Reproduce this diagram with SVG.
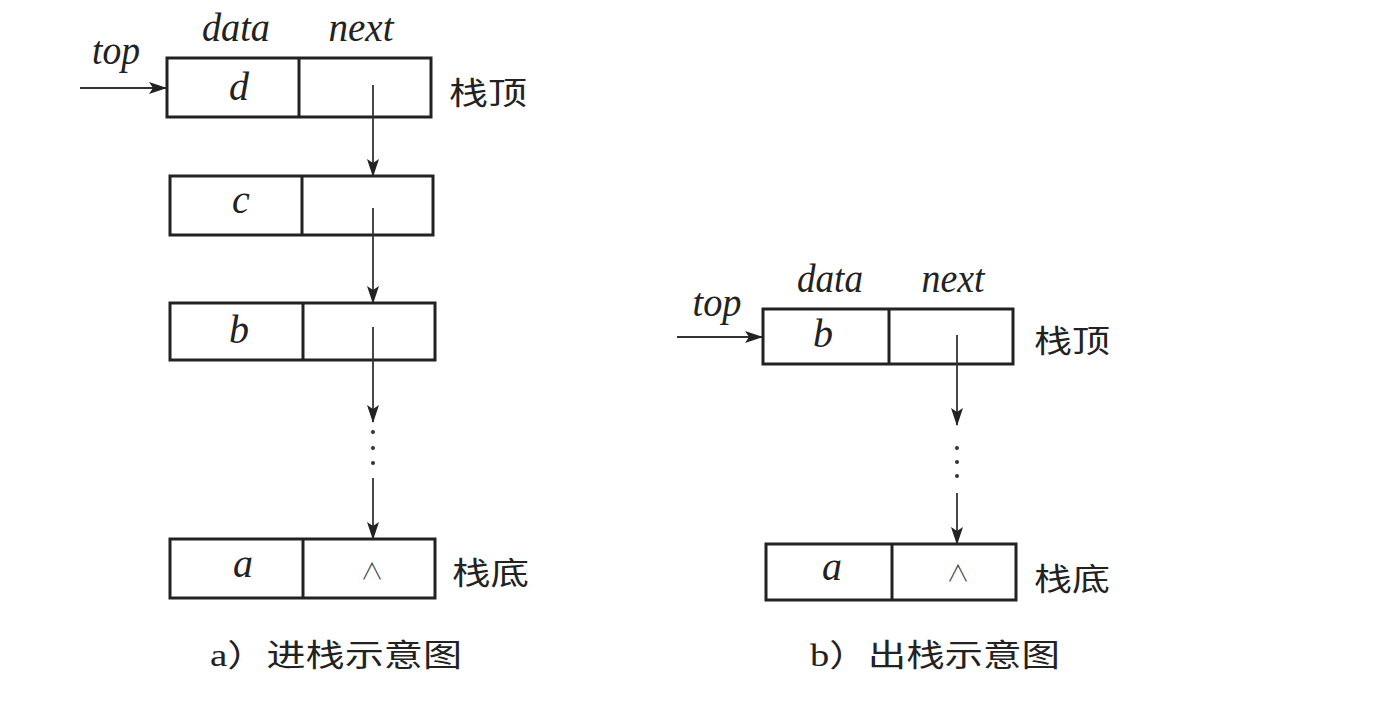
<svg xmlns="http://www.w3.org/2000/svg" width="1400" height="723" viewBox="0 0 1400 723">
<style>
.box{fill:#fff;stroke:#222;stroke-width:3}
.div{stroke:#222;stroke-width:3}
.ln{stroke:#333;stroke-width:1.8;fill:none}
.it{font-family:"Liberation Serif",serif;font-style:italic;font-size:40px;fill:#222}
.lt{font-family:"Liberation Serif",serif;font-style:italic;font-size:40px;fill:#222}
.nil{font-family:"Noto Sans CJK SC",sans-serif;font-weight:300;font-size:23px;fill:#444}
.cj{font-family:"Liberation Serif","Noto Sans CJK SC",serif;font-size:31px;fill:#222}
.dot{fill:#333}
</style>
<defs>
<marker id="ah" markerWidth="18" markerHeight="12" refX="17" refY="6" orient="auto" markerUnits="userSpaceOnUse">
<path d="M0,0 L18,6 L0,12 L4,6 Z" fill="#222"/>
</marker>
</defs>
<rect width="1400" height="723" fill="#fff"/>

<g id="labels-a">
<text class="it" x="236" y="41" text-anchor="middle" textLength="68" lengthAdjust="spacingAndGlyphs">data</text>
<text class="it" x="361" y="41" text-anchor="middle" textLength="65" lengthAdjust="spacingAndGlyphs">next</text>
<text class="it" x="116" y="64" text-anchor="middle" textLength="48" lengthAdjust="spacingAndGlyphs">top</text>
</g>
<g id="node-d">
<rect class="box" x="167" y="58" width="264" height="59"/>
<line class="div" x1="299" y1="58" x2="299" y2="117"/>
<text class="lt" x="239" y="100" text-anchor="middle">d</text>
<text class="cj" x="449" y="104" textLength="78" lengthAdjust="spacingAndGlyphs">栈顶</text>
</g>
<g id="node-c">
<rect class="box" x="170" y="176" width="263" height="59"/>
<line class="div" x1="302" y1="176" x2="302" y2="235"/>
<text class="lt" x="241" y="213" text-anchor="middle">c</text>
</g>
<g id="node-b">
<rect class="box" x="170" y="303" width="265" height="57"/>
<line class="div" x1="303" y1="303" x2="303" y2="360"/>
<text class="lt" x="239" y="343" text-anchor="middle">b</text>
</g>
<g id="node-a">
<rect class="box" x="170" y="539" width="265" height="59"/>
<line class="div" x1="303" y1="539" x2="303" y2="598"/>
<text class="lt" x="243" y="577" text-anchor="middle">a</text>
<text class="nil" x="372" y="579" text-anchor="middle">∧</text>
<text class="cj" x="452" y="584" textLength="77" lengthAdjust="spacingAndGlyphs">栈底</text>
</g>
<text class="cj" x="210" y="666" textLength="252" lengthAdjust="spacingAndGlyphs">a）进栈示意图</text>

<g id="labels-b">
<text class="it" x="830" y="292" text-anchor="middle" textLength="66" lengthAdjust="spacingAndGlyphs">data</text>
<text class="it" x="953" y="292" text-anchor="middle" textLength="63" lengthAdjust="spacingAndGlyphs">next</text>
<text class="it" x="717" y="316" text-anchor="middle" textLength="49" lengthAdjust="spacingAndGlyphs">top</text>
</g>
<g id="node-b2">
<rect class="box" x="763" y="309" width="250" height="55"/>
<line class="div" x1="889" y1="309" x2="889" y2="364"/>
<text class="lt" x="823" y="347" text-anchor="middle">b</text>
<text class="cj" x="1034" y="352" textLength="76" lengthAdjust="spacingAndGlyphs">栈顶</text>
</g>
<g id="node-a2">
<rect class="box" x="766" y="544" width="250" height="56"/>
<line class="div" x1="892" y1="544" x2="892" y2="600"/>
<text class="lt" x="832" y="580" text-anchor="middle">a</text>
<text class="nil" x="958" y="581" text-anchor="middle">∧</text>
<text class="cj" x="1034" y="590" textLength="76" lengthAdjust="spacingAndGlyphs">栈底</text>
</g>
<text class="cj" x="810" y="666" textLength="250" lengthAdjust="spacingAndGlyphs">b）出栈示意图</text>

<g id="connectors">
<line class="ln" x1="80" y1="88" x2="166" y2="88" marker-end="url(#ah)"/>
<line class="ln" x1="373" y1="85" x2="373" y2="176" marker-end="url(#ah)"/>
<line class="ln" x1="373" y1="208" x2="373" y2="303" marker-end="url(#ah)"/>
<line class="ln" x1="373" y1="327" x2="373" y2="422" marker-end="url(#ah)"/>
<circle class="dot" cx="373" cy="432" r="2"/>
<circle class="dot" cx="373" cy="448" r="2"/>
<circle class="dot" cx="373" cy="463" r="2"/>
<line class="ln" x1="373" y1="478" x2="373" y2="539" marker-end="url(#ah)"/>

<line class="ln" x1="677" y1="337" x2="762" y2="337" marker-end="url(#ah)"/>
<line class="ln" x1="957" y1="335" x2="957" y2="425" marker-end="url(#ah)"/>
<circle class="dot" cx="957" cy="448" r="2"/>
<circle class="dot" cx="957" cy="462" r="2"/>
<circle class="dot" cx="957" cy="476" r="2"/>
<line class="ln" x1="957" y1="493" x2="957" y2="544" marker-end="url(#ah)"/>
</g>
</svg>
